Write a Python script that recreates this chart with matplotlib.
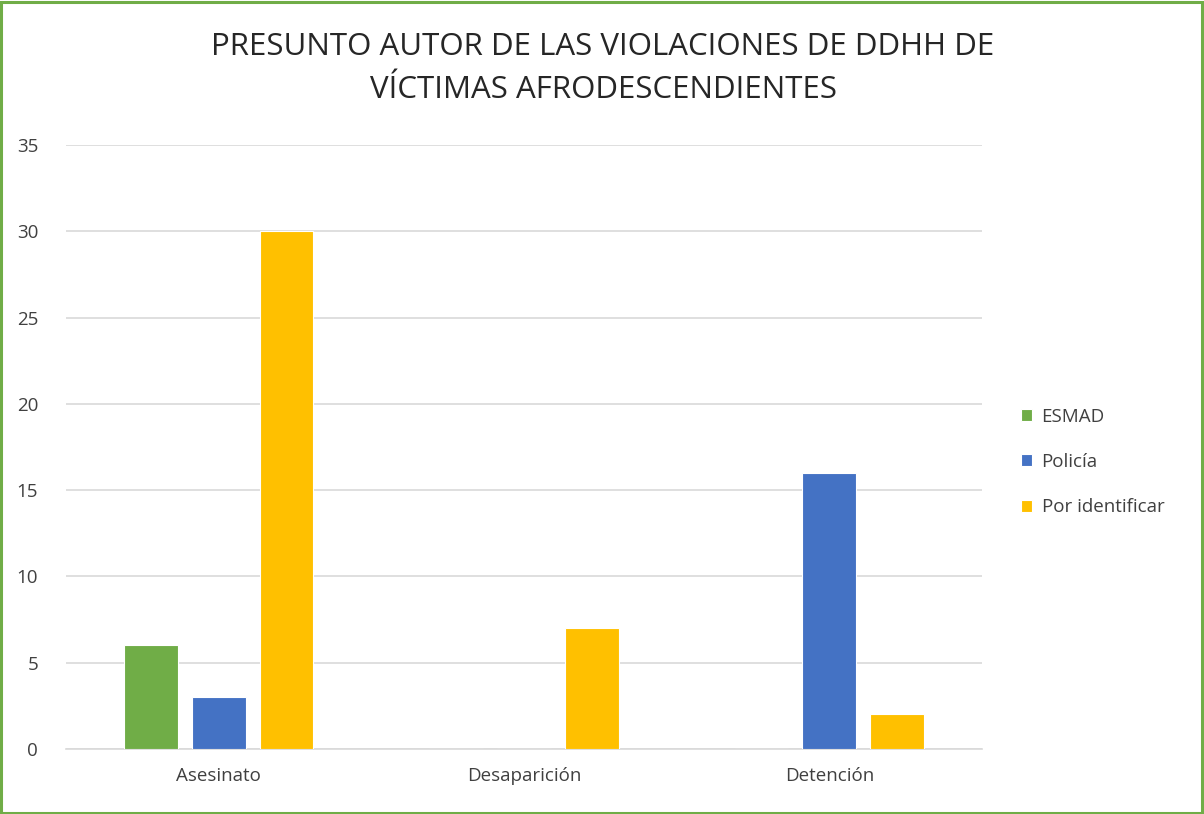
import matplotlib
matplotlib.use("Agg")
import matplotlib.pyplot as plt
from matplotlib.patches import Rectangle

categories = ["Asesinato", "Desaparición", "Detención"]
series_names = ["ESMAD", "Policía", "Por identificar"]
esmad = [6, 0, 0]
policia = [3, 0, 16]
por_identificar = [30, 7, 2]
colors = ["#70AD47", "#4472C4", "#FFC000"]
yticks = [0, 5, 10, 15, 20, 25, 30, 35]

plt.rcParams['font.family'] = ['Open Sans', 'DejaVu Sans']

fig = plt.figure(figsize=(12.04, 8.14), dpi=100)
ax = fig.add_axes([66/1204, 1-749/814, (982-66)/1204, (749-145)/814])

values = [esmad, policia, por_identificar]
offsets = [-0.222, 0.0, 0.222]
width = 0.176
x = list(range(len(categories)))
handles = []
for vals, off, col, name in zip(values, offsets, colors, series_names):
    b = ax.bar([xi + off for xi in x], vals, width=width, color=col,
               edgecolor="white", linewidth=0.8, label=name, zorder=3)
    handles.append(b)

ax.set_xlim(-0.5, 2.5)
ax.set_ylim(0, 35)
ax.set_yticks(yticks)
ax.set_xticks(x)
ax.set_xticklabels(categories)
ax.grid(axis="y", color="#D9D9D9", linewidth=1.2, zorder=0)
for s in ["top", "right", "left"]:
    ax.spines[s].set_visible(False)
ax.spines["bottom"].set_color("#D9D9D9")
ax.spines["bottom"].set_linewidth(1.2)
ax.tick_params(axis="both", length=0, labelsize=13.5, colors="#404040")
ax.tick_params(axis="y", pad=20)
ax.tick_params(axis="x", pad=13)

fig.text(603/1204, 1-47/814, "PRESUNTO AUTOR DE LAS VIOLACIONES DE DDHH DE",
         ha="center", va="center", fontsize=22.5, color="#262626")
fig.text(603/1204, 1-90/814, "VÍCTIMAS AFRODESCENDIENTES",
         ha="center", va="center", fontsize=22.5, color="#262626")

leg = fig.legend(handles=handles, labels=series_names, loc="center left",
                 bbox_to_anchor=(1004/1204, 1-462/814), frameon=False,
                 fontsize=13.5, handlelength=0.6, handleheight=0.6,
                 handletextpad=0.5, labelspacing=1.45, labelcolor="#404040")

fig.patches.append(Rectangle((0.001, 0.001), 0.997, 0.997, transform=fig.transFigure,
                             fill=False, edgecolor="#70AD47", linewidth=2.2))

fig.savefig("out.png", dpi=100)
